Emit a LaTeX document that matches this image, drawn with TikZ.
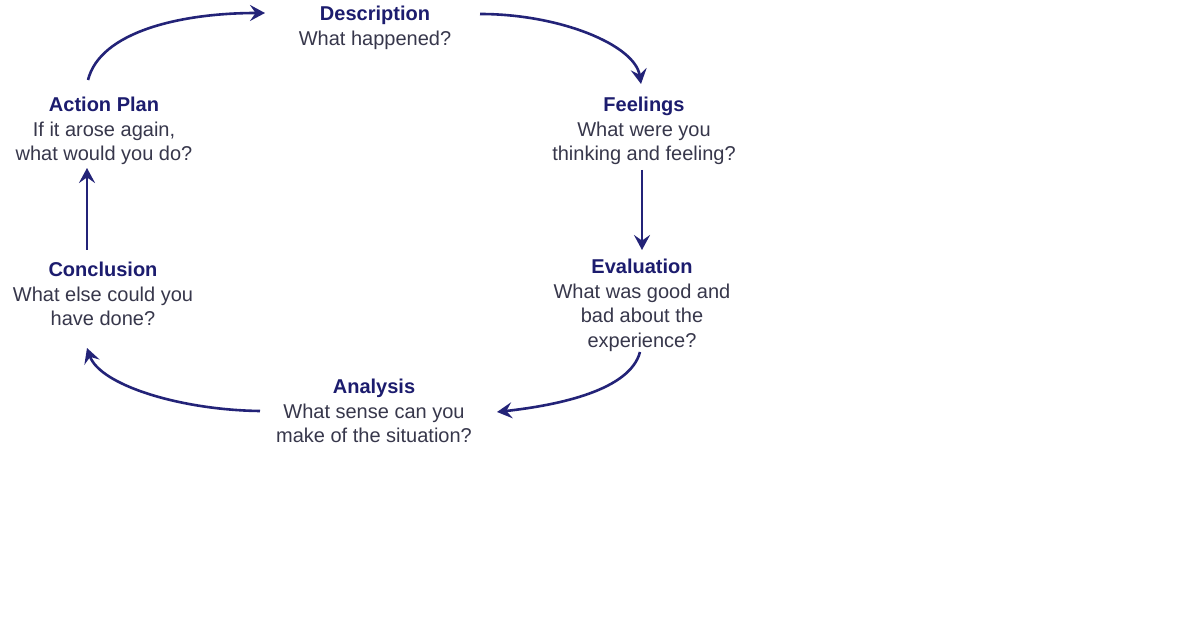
\documentclass[tikz,border=0pt]{standalone}
\usepackage{fontspec}
\setmainfont{Liberation Sans}
\usetikzlibrary{arrows.meta}
\definecolor{titlecol}{RGB}{28,28,110}
\definecolor{bodycol}{RGB}{55,55,75}
\definecolor{arrcol}{RGB}{35,35,120}
\begin{document}
\begin{tikzpicture}[x=0.5pt,y=-0.5pt,
  stage/.style={align=center,inner sep=0pt,text=bodycol,font=\fontsize{10}{12.3}\selectfont},
  arr/.style={draw=arrcol,line width=1.3pt,-{Stealth[length=7.5pt,width=8pt,inset=2.8pt]}}]
\fill[white] (0,0) rectangle (1200,630);
\useasboundingbox (0,0) rectangle (1200,630);
\newcommand{\ttl}[1]{{\bfseries\color{titlecol}#1}}
\node[stage] (desc) at (375,28) {\ttl{Description}\\What happened?};
\node[stage] (feel) at (644,131) {\ttl{Feelings}\\What were you\\thinking and feeling?};
\node[stage] (eval) at (642,305.5) {\ttl{Evaluation}\\What was good and\\bad about the\\experience?};
\node[stage] (anal) at (374,411) {\ttl{Analysis}\\What sense can you\\make of the situation?};
\node[stage] (conc) at (103,294) {\ttl{Conclusion}\\What else could you\\have done?};
\node[stage] (plan) at (104,131) {\ttl{Action Plan}\\If it arose again,\\what would you do?};
\draw[arr] ([shift={(-16,-51)}]plan.center) .. controls +(12,-48) and +(-85,0) .. ([shift={(-110,-15)}]desc.center);
\draw[arr] ([shift={(105,-14)}]desc.center) .. controls +(80,0) and +(-6,-39) .. ([shift={(-3,-47)}]feel.center);
\draw[arr] ([shift={(-2,39)}]feel.center) -- ([shift={(0,-55.5)}]eval.center);
\draw[arr] ([shift={(-2,46.5)}]eval.center) .. controls +(-10,38) and +(63,-7) .. ([shift={(123,1)}]anal.center);
\draw[arr] ([shift={(-114,0)}]anal.center) .. controls +(-80,-1) and +(13,37) .. ([shift={(-16,54)}]conc.center);
\draw[arr] ([shift={(-16,-44)}]conc.center) -- ([shift={(-17,37)}]plan.center);
\end{tikzpicture}
\end{document}
